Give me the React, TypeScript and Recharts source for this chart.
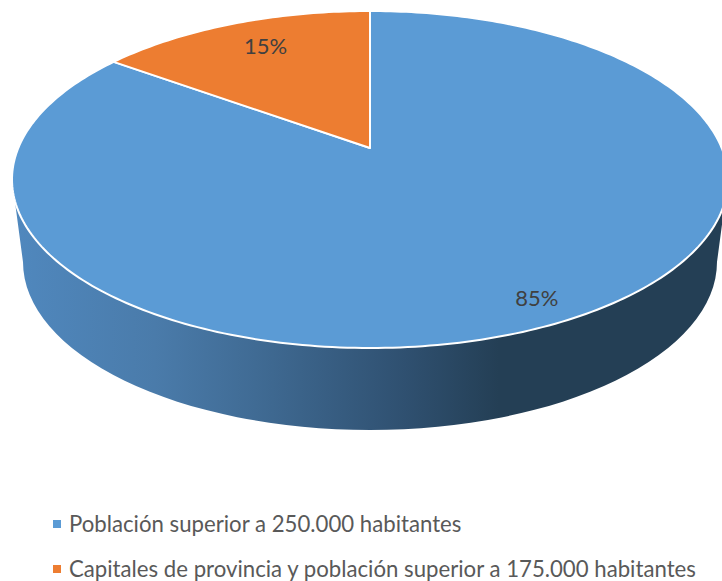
import React from 'react';
import { PieChart, Pie, Legend } from 'recharts';

const CATEGORIES = [
  'Población superior a 250.000 habitantes',
  'Capitales de provincia y población superior a 175.000 habitantes',
];
const SHARES = [85, 15];
const COLORS = ['#5B9BD5', '#ED7D31'];

const chartData = CATEGORIES.map((name, i) => ({ name, value: SHARES[i], fill: COLORS[i] }));

const FONT = 'Lato, "Open Sans", sans-serif';
const RX = 358;
const RY = 168.5;
const CX = 370;
const CY = 179.5;
// how far the tilt pushes the pie's centre up inside the ellipse
const TILT = 0.187;
const LABEL_REACH = [0.86, 0.8];
const LABEL_NUDGE = [[2, 0], [5, -3]];

// lower rim of the side wall
const RIM_RX = 347;
const RIM_RY = 168;
const RIM_CY = 262;

const WALL_STOPS: [string, string][] = [
  ['0%', '#5088BE'],
  ['20%', '#4A7BAA'],
  ['34%', '#406B94'],
  ['55%', '#2F5070'],
  ['68%', '#243F55'],
  ['100%', '#243F55'],
];

function project(deg: number, reach = 1) {
  const a = (deg * Math.PI) / 180;
  const d = 1 + TILT * Math.sin(a);
  const x = (Math.cos(a) * Math.sqrt(1 - TILT * TILT)) / d;
  const y = (Math.sin(a) + TILT) / d;
  return {
    x: CX + (x * reach) * RX,
    y: CY - (TILT + (y - TILT) * reach) * RY,
  };
}

const SliceShape = (props: any) => {
  const { startAngle, endAngle, fill, index } = props;
  const apex = project(0, 0);
  const pts: string[] = [];
  const steps = Math.ceil(Math.abs(endAngle - startAngle));
  for (let i = 0; i <= steps; i++) {
    const p = project(startAngle + ((endAngle - startAngle) * i) / steps);
    pts.push(`${p.x} ${p.y}`);
  }
  return (
    <g>
      {index === 0 && (
        <>
          <defs>
            <linearGradient id="wallShade" x1="0" y1="0" x2="1" y2="0">
              {WALL_STOPS.map(([offset, color]) => (
                <stop key={offset} offset={offset} stopColor={color} />
              ))}
            </linearGradient>
          </defs>
          <path
            d={`M${CX - RX} ${CY} L${CX - RIM_RX} ${RIM_CY} A${RIM_RX} ${RIM_RY} 0 0 0 ${CX + RIM_RX} ${RIM_CY} L${CX + RX} ${CY} Z`}
            fill="url(#wallShade)"
          />
        </>
      )}
      <path
        d={`M${apex.x} ${apex.y} L${pts.join(' L')} Z`}
        fill={fill}
        stroke="#fff"
        strokeWidth={2}
        strokeLinejoin="round"
      />
    </g>
  );
};

const renderLabel = (props: any) => {
  const { midAngle, index, percent } = props;
  const p = project(midAngle, LABEL_REACH[index]);
  return (
    <text
      x={p.x + LABEL_NUDGE[index][0]}
      y={p.y + LABEL_NUDGE[index][1]}
      textAnchor="middle"
      dominantBaseline="central"
      fill="#404040"
      fontFamily={FONT}
      fontSize={22}
    >
      {`${Math.round(percent * 100)}%`}
    </text>
  );
};

const LegendRows = () => (
  <div style={{ fontFamily: FONT, fontSize: 22.2, color: '#595959' }}>
    {CATEGORIES.map((name, i) => (
      <div
        key={name}
        style={{ whiteSpace: 'nowrap', display: 'flex', alignItems: 'center', height: 24, marginBottom: 21, lineHeight: '24px' }}
      >
        <span style={{ width: 8, height: 8, background: COLORS[i], marginRight: 8, flex: 'none' }} />
        {name}
      </div>
    ))}
  </div>
);

export default function App() {
  return (
    <div style={{ position: 'absolute', left: 0, top: 0, width: 722, height: 581, overflow: 'hidden', background: '#fff' }}>
      <PieChart width={722} height={581} margin={{ top: 0, right: 0, bottom: 0, left: 0 }}>
        <Pie
          data={chartData}
          dataKey="value"
          nameKey="name"
          cx={CX}
          cy={CY}
          outerRadius={RX}
          startAngle={90}
          endAngle={-270}
          stroke="none"
          shape={SliceShape}
          label={renderLabel}
          labelLine={false}
          isAnimationActive={false}
        />
        <Legend
          content={<LegendRows />}
          layout="vertical"
          wrapperStyle={{ left: 53, top: 512, width: 669, height: 69 }}
        />
      </PieChart>
    </div>
  );
}
